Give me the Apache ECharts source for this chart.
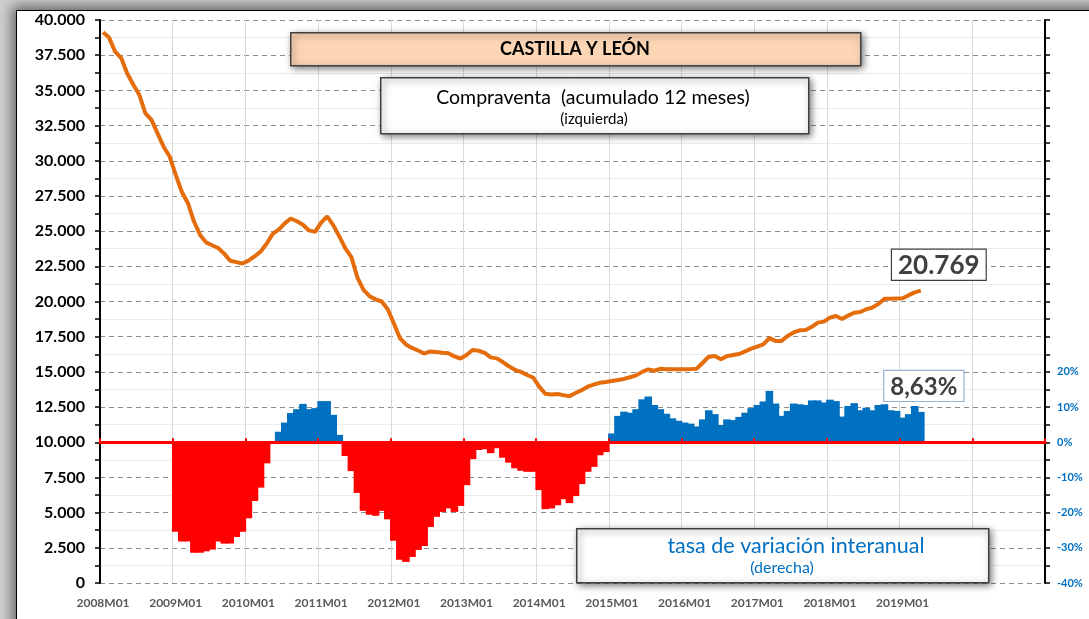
<!DOCTYPE html>
<html>
<head>
<meta charset="utf-8">
<script src="https://cdn.jsdelivr.net/npm/echarts@6/dist/echarts.min.js"></script>
<style>
  html, body { margin: 0; padding: 0; overflow: hidden; background: #cfcfcf; }
  #frame { position: absolute; left: 16px; top: 10px; width: 1100px; height: 640px;
    background: #fff; border: 1.5px solid #000; box-shadow: 0 0 12px 4px #666; }
  #main { position: absolute; left: 0; top: 0; width: 1089px; height: 619px; }
</style>
</head>
<body>
<div id="frame"></div>
<div id="main"></div>
<script>
// months 2008M01 .. 2020M12 (axis runs to end of 2020, data stops 2019M04)
const months = [];
for (let y = 2008; y <= 2020; y++) {
  for (let m = 1; m <= 12; m++) months.push(y + 'M' + (m < 10 ? '0' + m : m));
}

// compraventa, acumulado 12 meses (eje izquierdo), 2008M01 .. 2019M04
const compraventa = [
  39130, 38750, 37750, 37300, 36200, 35400, 34670, 33370, 32900, 31950, 31000, 30300,
  29000, 27800, 27000, 25700, 24750, 24200, 24000, 23800, 23400, 22900, 22800, 22700,
  22900, 23200, 23540, 24100, 24800, 25100, 25550, 25900, 25700, 25450, 25050, 24950,
  25600, 26050, 25430, 24630, 23780, 23150, 21700, 20820, 20380, 20150, 20000, 19450,
  18450, 17400, 16950, 16700, 16520, 16300, 16450, 16420, 16360, 16320, 16100, 15950,
  16200, 16550, 16500, 16350, 16030, 15960, 15700, 15400, 15150, 15000, 14780, 14600,
  13950, 13450, 13400, 13430, 13350, 13260, 13500, 13700, 13950, 14100, 14220, 14280,
  14350, 14420, 14500, 14620, 14750, 15000, 15180, 15080, 15220, 15190, 15180, 15180,
  15180, 15200, 15230, 15650, 16080, 16130, 15900, 16120, 16200, 16270, 16450, 16650,
  16800, 16950, 17400, 17200, 17200, 17550, 17800, 17950, 17970, 18200, 18500, 18570,
  18850, 18970, 18750, 19000, 19200, 19250, 19450, 19570, 19830, 20200, 20200, 20220,
  20230, 20450, 20650, 20769
];

// tasa de variación interanual en % (eje derecho)
const tasa = [
  null, null, null, null, null, null, null, null, null, null, null, null,
  -25.4, -28.2, -28.2, -31.4, -31.4, -31.0, -30.5, -28.2, -28.8, -28.8, -26.9, -25.4,
  -21.6, -16.7, -12.9, -6.0, 0.2, 3.0, 5.6, 8.3, 9.4, 10.9, 9.4, 9.7,
  11.7, 11.7, 7.8, 2.1, -3.9, -8.2, -14.4, -19.5, -20.6, -20.9, -19.5, -21.9,
  -28.0, -33.4, -34.0, -32.6, -30.6, -29.5, -24.1, -21.2, -19.8, -18.8, -19.8, -18.1,
  -12.2, -4.8, -2.2, -2.0, -3.1, -1.7, -4.4, -5.8, -7.4, -8.1, -8.4, -8.4,
  -13.6, -19.0, -18.8, -17.9, -16.2, -17.3, -15.3, -11.9, -8.4, -7.0, -3.7, -2.8,
  2.5, 7.5, 8.7, 8.4, 9.4, 12.2, 13.0, 10.6, 9.4, 8.1, 6.8, 6.1,
  5.6, 5.3, 4.5, 6.5, 9.1, 8.0, 4.9, 6.5, 6.3, 7.2, 8.4, 9.7,
  10.6, 11.6, 14.6, 11.0, 7.5, 8.9, 11.0, 10.8, 10.6, 11.9, 11.9, 11.3,
  12.1, 11.7, 7.3, 10.3, 11.1, 9.1, 9.8, 9.1, 10.6, 10.8, 9.1, 8.9,
  7.0, 8.0, 10.3, 8.63
];

const lastYearLabel = 2019;
const font = 'Lato, "Open Sans", sans-serif';

function miles(v) {
  return String(Math.round(v)).replace(/\B(?=(\d{3})+(?!\d))/g, '.');
}

const lineData = compraventa.map((v, i) => i === compraventa.length - 1 ? {
  value: v,
  label: {
    show: true, position: 'top', distance: 11, offset: [18, 0],
    formatter: p => miles(p.value),
    fontFamily: font, fontSize: 26, fontWeight: 'bold', color: '#404040',
    backgroundColor: '#fff', borderColor: '#404040', borderWidth: 1.2, padding: [3, 6, 1, 6]
  }
} : v);

// each bar gets its own colour; bars slightly wider than the band so neighbours join without seams
const barData = tasa.map((v, i) => {
  if (v === null) return null;
  const c = v >= 0 ? '#0070C0' : '#ff0000';
  const item = { value: v, itemStyle: { color: c } };
  if (i === tasa.length - 1) {
    item.label = {
      show: true, position: 'top', distance: 11, offset: [3, 0],
      formatter: p => p.value.toFixed(2).replace('.', ',') + '%',
      fontFamily: font, fontSize: 24, fontWeight: 'bold', color: '#404040',
      backgroundColor: '#fff', borderColor: '#95B3D7', borderWidth: 1.2, padding: [4, 6, 2, 6]
    };
  }
  return item;
});

const chart = echarts.init(document.getElementById('main'));
const boxShadow = { shadowBlur: 7, shadowColor: 'rgba(0,0,0,0.55)', shadowOffsetX: 2, shadowOffsetY: 2 };

chart.setOption({
  animation: false,
  grid: { left: 100, right: 44, top: 20, bottom: 36 },
  xAxis: [{
    type: 'category',
    data: months,
    boundaryGap: true,
    axisLine: { show: false },
    axisTick: { show: false },
    axisLabel: {
      interval: (i, v) => v.endsWith('M01') && +v.slice(0, 4) <= lastYearLabel,
      margin: 14, fontFamily: font, fontSize: 12, fontWeight: 'bold', color: '#595959'
    },
    splitLine: {
      show: true,
      interval: (i, v) => v.endsWith('M01'),
      lineStyle: { color: '#d9d9d9', width: 1 }
    }
  }, {
    type: 'category',
    data: months,
    boundaryGap: true,
    axisLine: { show: true, onZero: true, onZeroAxisIndex: 1, lineStyle: { color: '#ff0000', width: 3 } },
    axisTick: { show: true, interval: (i, v) => v.endsWith('M01'), length: 4, lineStyle: { color: '#ff0000', width: 2 } },
    axisLabel: { show: false },
    splitLine: { show: false },
    z: 5
  }],
  yAxis: [{
    type: 'value',
    min: 0, max: 40000, interval: 2500,
    axisLine: { show: true, lineStyle: { color: '#000', width: 2 } },
    axisTick: { show: true, length: 5, lineStyle: { color: '#000', width: 1.5 } },
    minorTick: { show: true, splitNumber: 2, length: 5, lineStyle: { color: '#000', width: 1.5 } },
    axisLabel: {
      margin: 15, formatter: v => miles(v),
      fontFamily: font, fontSize: 16, fontWeight: 'bold', color: '#000'
    },
    splitLine: { show: true, lineStyle: { color: '#8c8c8c', type: [5, 4], width: 1 } },
    minorSplitLine: { show: true, lineStyle: { color: '#ebebeb', width: 1 } }
  }, {
    type: 'value',
    min: -40, max: 120, interval: 10,
    position: 'right',
    axisLine: { show: true, lineStyle: { color: '#000', width: 2 } },
    axisTick: { show: true, length: 5, lineStyle: { color: '#000', width: 1.5 } },
    minorTick: { show: true, splitNumber: 2, length: 5, lineStyle: { color: '#000', width: 1.5 } },
    axisLabel: {
      margin: 12, formatter: v => v <= 20 ? v + '%' : '',
      fontFamily: font, fontSize: 11, fontWeight: 'bold', color: '#0070C0'
    },
    splitLine: { show: false }
  }],
  series: [{
    name: 'tasa de variación interanual',
    type: 'bar',
    xAxisIndex: 0, yAxisIndex: 1,
    data: barData,
    barWidth: '125%',
    barCategoryGap: 0,
    z: 3
  }, {
    name: 'Compraventa',
    type: 'line',
    xAxisIndex: 0, yAxisIndex: 0,
    data: lineData,
    symbol: 'circle',
    symbolSize: 0,
    showSymbol: true,
    lineStyle: { color: '#E46C0A', width: 4 },
    itemStyle: { color: '#E46C0A' },
    z: 6
  }],
  graphic: [
    { type: 'rect', left: 290, top: 32, shape: { width: 570, height: 33 },
      style: Object.assign({ fill: '#FCD5B5', stroke: '#404040', lineWidth: 1.5 }, boxShadow), z: 20 },
    { type: 'text', x: 575, y: 49, style: { text: 'CASTILLA Y LEÓN', fill: '#000', font: 'bold 18px ' + font,
      textAlign: 'center', textVerticalAlign: 'middle' }, z: 21 },
    { type: 'rect', left: 380, top: 77, shape: { width: 428, height: 56 },
      style: Object.assign({ fill: '#fff', stroke: '#404040', lineWidth: 1.5 }, boxShadow), z: 20 },
    { type: 'text', x: 593, y: 98, style: { text: 'Compraventa  (acumulado 12 meses)', fill: '#000', font: '19.5px ' + font,
      textAlign: 'center', textVerticalAlign: 'middle' }, z: 21 },
    { type: 'text', x: 594, y: 119, style: { text: '(izquierda)', fill: '#000', font: '15px ' + font,
      textAlign: 'center', textVerticalAlign: 'middle' }, z: 21 },
    { type: 'rect', left: 576, top: 528, shape: { width: 412, height: 54 },
      style: Object.assign({ fill: '#fff', stroke: '#404040', lineWidth: 1.5 }, boxShadow), z: 20 },
    { type: 'text', x: 796, y: 546, style: { text: 'tasa de variación interanual', fill: '#0070C0', font: '21.5px ' + font,
      textAlign: 'center', textVerticalAlign: 'middle' }, z: 21 },
    { type: 'text', x: 782, y: 568, style: { text: '(derecha)', fill: '#0070C0', font: '16px ' + font,
      textAlign: 'center', textVerticalAlign: 'middle' }, z: 21 }
  ]
});
</script>
</body>
</html>
